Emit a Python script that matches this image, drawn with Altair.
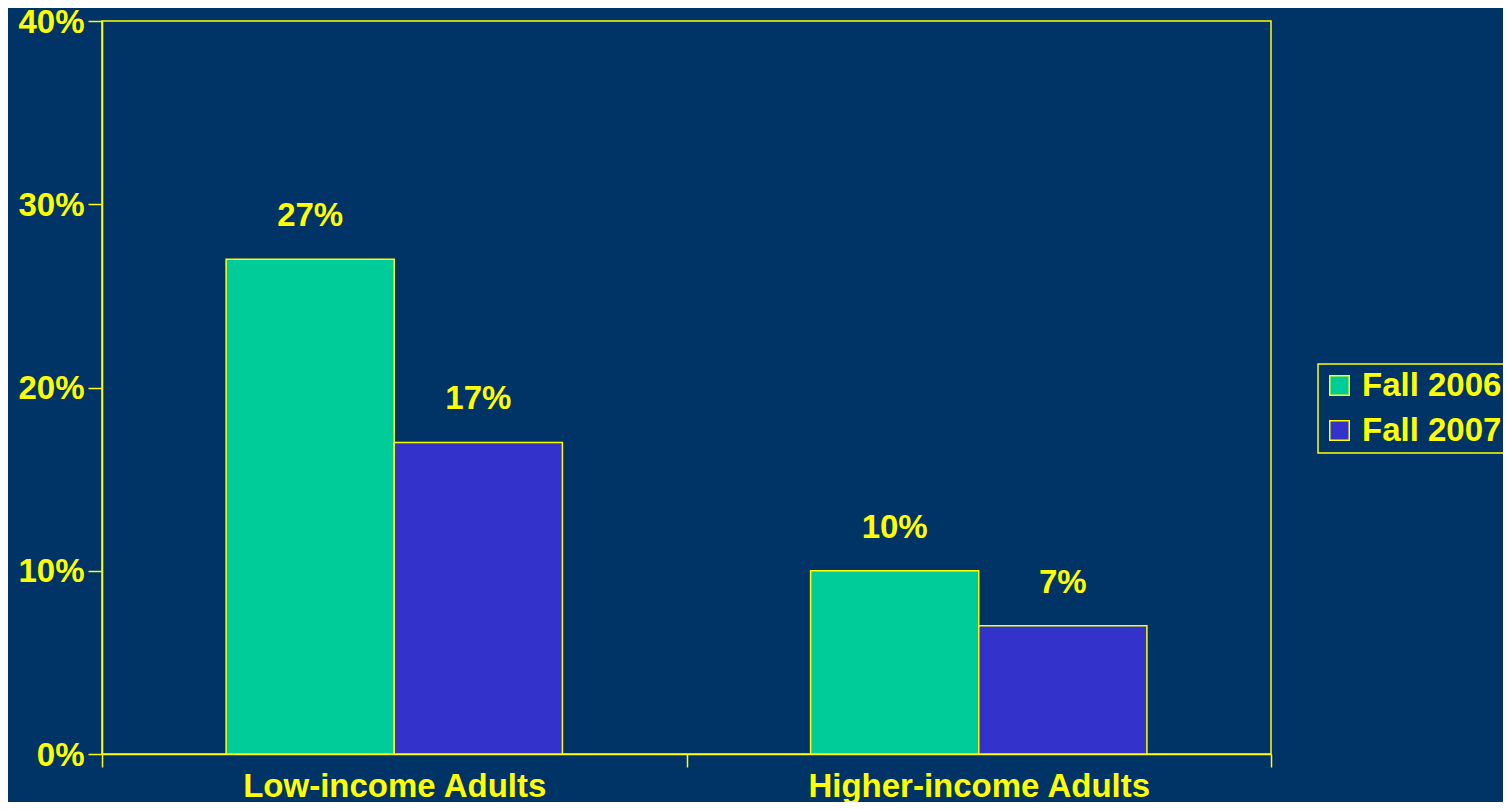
import altair as alt
import pandas as pd

groups = ["Low-income Adults", "Higher-income Adults"]
series = ["Fall 2006", "Fall 2007"]
fall_2006 = [0.27, 0.10]
fall_2007 = [0.17, 0.07]
colors = ["#00CC99", "#3333CC"]
y_ticks = [0, 0.1, 0.2, 0.3, 0.4]

rows = []
for g, a, b in zip(groups, fall_2006, fall_2007):
    rows.append({"group": g, "series": series[0], "value": a})
    rows.append({"group": g, "series": series[1], "value": b})
df = pd.DataFrame(rows)

YEL = "#FFFF00"
BG = "#003366"
FONT = "Liberation Sans"
FS = 33

base = alt.Chart(df).encode(
    x=alt.X(
        "group:N",
        sort=groups,
        scale=alt.Scale(paddingInner=0, paddingOuter=0),
        axis=alt.Axis(
            title=None,
            labelAngle=0,
            tickBand="extent",
            tickSize=13,
            tickColor=YEL,
            tickWidth=1.5,
            domainColor=YEL,
            domainWidth=1.5,
            labelColor=YEL,
            labelFont=FONT,
            labelFontWeight="bold",
            labelFontSize=FS,
            labelPadding=3,
            labelLimit=800,
            grid=False,
        ),
    ),
    xOffset=alt.XOffset(
        "series:N", sort=series, scale=alt.Scale(paddingOuter=0.738, paddingInner=0)
    ),
)

bars = base.mark_bar(stroke=YEL, strokeWidth=1.5, opacity=1).encode(
    y=alt.Y(
        "value:Q",
        scale=alt.Scale(domain=[0, 0.4]),
        axis=alt.Axis(
            title=None,
            format=".0%",
            values=y_ticks,
            tickSize=14,
            tickColor=YEL,
            tickWidth=1.5,
            domainColor=YEL,
            domainWidth=1.5,
            labelColor=YEL,
            labelFont=FONT,
            labelFontWeight="bold",
            labelFontSize=FS,
            labelPadding=4,
            labelOffset=1,
            labelLimit=400,
            grid=False,
        ),
    ),
    color=alt.Color(
        "series:N",
        scale=alt.Scale(domain=series, range=colors),
        legend=alt.Legend(
            title=None,
            orient="none",
            legendX=1216,
            legendY=343,
            strokeColor=YEL,
            padding=5,
            rowPadding=11,
            symbolType="square",
            symbolSize=380,
            symbolStrokeColor=YEL,
            symbolStrokeWidth=1.5,
            symbolOpacity=1,
            labelColor=YEL,
            labelFont=FONT,
            labelFontWeight="bold",
            labelFontSize=FS,
            labelOffset=6,
            labelLimit=400,
        ),
    ),
)

labels = base.mark_text(
    baseline="alphabetic",
    dy=-33,
    color=YEL,
    font=FONT,
    fontWeight="bold",
    fontSize=FS,
).encode(
    y=alt.Y("value:Q"),
    text=alt.Text("value:Q", format=".0%"),
)

chart = (
    alt.layer(bars, labels)
    .properties(
        width=1169,
        height=733,
        autosize=alt.AutoSizeParams(type="none"),
        padding={"left": 94, "top": 13, "right": 232, "bottom": 48},
        background=BG,
    )
    .configure_view(stroke=YEL, strokeWidth=1.5)
    .configure_legend(strokeWidth=1.5)
)

chart.save("out.html", embed_options={"renderer": "svg", "actions": False})
